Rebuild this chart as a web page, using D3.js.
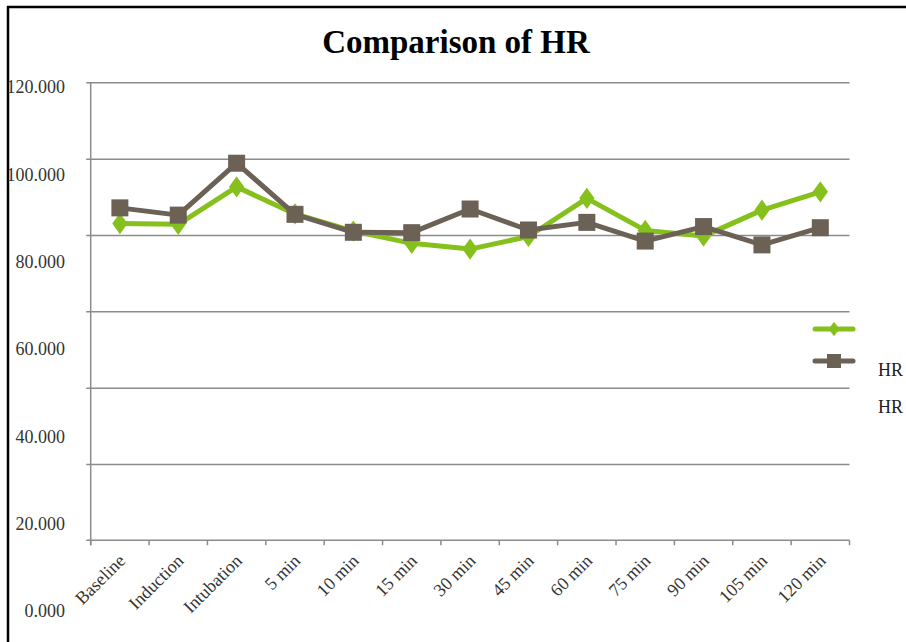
<!DOCTYPE html>
<html>
<head>
<meta charset="utf-8">
<script src="https://cdn.jsdelivr.net/npm/d3@7"></script>
<style>
  html, body { margin: 0; padding: 0; background: #fff; }
  svg { display: block; font-family: "Liberation Serif", "Times New Roman", serif; }
</style>
</head>
<body>
<svg id="chart" width="906" height="642"></svg>
<script>
// Heart rate over time points, two groups
const categories = ["Baseline", "Induction", "Intubation", "5 min", "10 min", "15 min",
  "30 min", "45 min", "60 min", "75 min", "90 min", "105 min", "120 min"];
const hrGreen = [83.0, 82.8, 92.6, 85.5, 81.0, 77.8, 76.3, 79.6, 89.6, 81.2, 79.7, 86.5, 91.3];
const hrGray  = [87.1, 85.2, 98.8, 85.4, 80.7, 80.6, 86.8, 81.3, 83.3, 78.4, 82.2, 77.4, 81.9];
const yTicks = [0, 20, 40, 60, 80, 100, 120];
const yTickLabels = ["0.000", "20.000", "40.000", "60.000", "80.000", "100.000", "120.000"];
const legendNames = ["", "HR"];
const chartTitle = "Comparison of HR";

const GREEN = "#86c01c";
const GRAY = "#6b6155";
const GRID = "#8c8c8c";
const TEXT = "#333";

const svg = d3.select("#chart");

// frame lines
svg.append("line").attr("x1", 7).attr("x2", 906).attr("y1", 7).attr("y2", 7)
  .attr("stroke", "#000").attr("stroke-width", 2.5);
svg.append("line").attr("x1", 8).attr("x2", 8).attr("y1", 6).attr("y2", 642)
  .attr("stroke", "#000").attr("stroke-width", 2.5);

// title
svg.append("text").attr("x", 456).attr("y", 53).attr("text-anchor", "middle")
  .attr("font-size", 33).attr("font-weight", "bold").attr("fill", "#000")
  .text(chartTitle);

const plot = { left: 90.7, right: 849.5, top: 82.3, bottom: 540.3 };

const x = d3.scaleBand().domain(categories).range([plot.left, plot.right]).paddingInner(0).paddingOuter(0);
const y = d3.scaleLinear().domain([0, 120]).range([plot.bottom, plot.top]);
// value labels sit on their own spacing down the left side
const yLabel = d3.scaleLinear().domain([0, 120]).range([611, 87]);

// gridlines
const grid = svg.append("g").attr("transform", `translate(${plot.left},0)`)
  .call(d3.axisLeft(y).tickValues(yTicks.filter(d => d > 0)).tickSize(-(plot.right - plot.left)).tickFormat(""));
grid.select(".domain").remove();
grid.selectAll(".tick line").attr("stroke", GRID).attr("stroke-width", 1.5)
  .attr("x1", -4.5).attr("x2", plot.right - plot.left);

// left axis line
svg.append("line").attr("x1", plot.left).attr("x2", plot.left)
  .attr("y1", plot.top).attr("y2", plot.bottom + 5)
  .attr("stroke", GRID).attr("stroke-width", 1.5);

// y labels
const yl = svg.append("g").attr("transform", "translate(65,0)")
  .call(d3.axisLeft(yLabel).tickValues(yTicks).tickSize(0).tickPadding(0)
    .tickFormat((d, i) => yTickLabels[i]));
yl.select(".domain").remove();
yl.selectAll("text").attr("font-size", 18).attr("fill", TEXT)
  .attr("font-family", "Liberation Serif, serif");

// bottom axis with ticks on category boundaries
const xb = svg.append("g").attr("transform", `translate(0,${plot.bottom})`);
xb.append("line").attr("x1", plot.left - 4.5).attr("x2", plot.right)
  .attr("stroke", GRID).attr("stroke-width", 1.5);
const bounds = categories.map(c => x(c)).concat([plot.right]);
xb.selectAll("line.tk").data(bounds).join("line").attr("class", "tk")
  .attr("x1", d => d).attr("x2", d => d).attr("y1", 0).attr("y2", 5)
  .attr("stroke", GRID).attr("stroke-width", 1.5);

// x labels, rotated
svg.append("g").selectAll("text").data(categories).join("text")
  .attr("transform", d => `translate(${x(d) + x.bandwidth() / 2 + 2},${plot.bottom + 17}) rotate(-45)`)
  .attr("text-anchor", "end").attr("dy", "0.35em")
  .attr("font-size", 18).attr("fill", TEXT)
  .text(d => d);

const cx = c => x(c) + x.bandwidth() / 2;
const line = d3.line().x((d, i) => cx(categories[i])).y(d => y(d));

// green series
svg.append("path").datum(hrGreen).attr("d", line).attr("fill", "none")
  .attr("stroke", GREEN).attr("stroke-width", 5).attr("stroke-linejoin", "round");
const diamond = d3.symbol().type(d3.symbolDiamond).size(130);
svg.append("g").selectAll("path").data(hrGreen).join("path")
  .attr("d", diamond)
  .attr("transform", (d, i) => `translate(${cx(categories[i])},${y(d)}) scale(1.25,1)`)
  .attr("fill", GREEN);

// gray series
svg.append("path").datum(hrGray).attr("d", line).attr("fill", "none")
  .attr("stroke", GRAY).attr("stroke-width", 5).attr("stroke-linejoin", "round");
const sq = 17;
svg.append("g").selectAll("rect").data(hrGray).join("rect")
  .attr("x", (d, i) => cx(categories[i]) - sq / 2).attr("y", d => y(d) - sq / 2)
  .attr("width", sq).attr("height", sq).attr("fill", GRAY);

// legend
const lg = svg.append("g");
lg.append("line").attr("x1", 815).attr("x2", 853).attr("y1", 329).attr("y2", 329)
  .attr("stroke", GREEN).attr("stroke-width", 5).attr("stroke-linecap", "round");
lg.append("path").attr("d", d3.symbol().type(d3.symbolDiamond).size(60))
  .attr("transform", "translate(834,329) scale(1.3,1)").attr("fill", GREEN);
lg.append("line").attr("x1", 815).attr("x2", 853).attr("y1", 361).attr("y2", 361)
  .attr("stroke", GRAY).attr("stroke-width", 5).attr("stroke-linecap", "round");
lg.append("rect").attr("x", 827).attr("y", 354).attr("width", 14).attr("height", 14).attr("fill", GRAY);
lg.append("text").attr("x", 878).attr("y", 376).attr("font-size", 18).attr("fill", "#222").text(legendNames[1]);
lg.append("text").attr("x", 878).attr("y", 413).attr("font-size", 18).attr("fill", "#222").text(legendNames[1]);
</script>
</body>
</html>
